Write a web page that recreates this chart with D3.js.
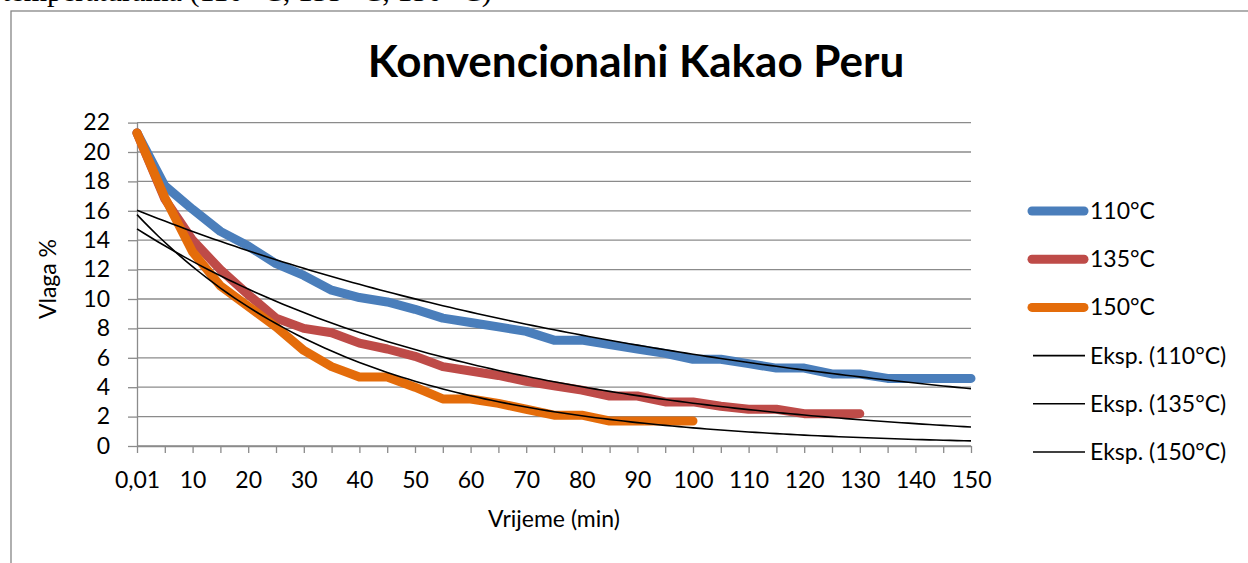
<!DOCTYPE html>
<html>
<head>
<meta charset="utf-8">
<script src="https://cdnjs.cloudflare.com/ajax/libs/d3/7.8.5/d3.min.js"></script>
<style>
    body { margin: 0; background: #fff; }
    text { font-family: Lato, "Open Sans", sans-serif; }
</style>
</head>
<body>
<script>
// x categories (minutes), Excel category axis
const categories = ["0,01", "5", "10", "15", "20", "25", "30", "35", "40", "45", "50",
    "55", "60", "65", "70", "75", "80", "85", "90", "95", "100",
    "105", "110", "115", "120", "125", "130", "135", "140", "145", "150"];

// moisture % per series
const vlaga110 = [21.3, 17.7, 16.1, 14.6, 13.6, 12.4, 11.6, 10.6, 10.1, 9.8, 9.3,
    8.7, 8.4, 8.1, 7.8, 7.2, 7.2, 6.9, 6.6, 6.3, 5.9,
    5.9, 5.6, 5.3, 5.3, 4.9, 4.9, 4.6, 4.6, 4.6, 4.6];
const vlaga135 = [21.3, 16.8, 14.0, 12.0, 10.3, 8.7, 8.0, 7.7, 7.0, 6.6, 6.1,
    5.4, 5.1, 4.8, 4.4, 4.1, 3.8, 3.4, 3.4, 3.0, 3.0,
    2.7, 2.5, 2.5, 2.2, 2.2, 2.2];
const vlaga150 = [21.3, 16.9, 13.2, 10.9, 9.5, 8.1, 6.5, 5.4, 4.7, 4.7, 4.0,
    3.2, 3.2, 2.9, 2.5, 2.1, 2.1, 1.7, 1.7, 1.7, 1.7];

const seriesNames = ["110°C", "135°C", "150°C"];
const yTicks = [0, 2, 4, 6, 8, 10, 12, 14, 16, 18, 20, 22];

const width = 1248;
const height = 563;
const xLeft = 137, xRight = 971, yTop = 122.6, yBottom = 446;
const colors = ["#4A7EBB", "#BE4B48", "#E46C0A"];
const gridColor = "#8b8b8b";

const series = [vlaga110, vlaga135, vlaga150].map((v, k) => ({
    name: seriesNames[k], values: v, color: colors[k]
}));

// exponential trendline like Excel: ln(y) = ln(a) + b*x, x = 1..n
function fitExp(values) {
    const n = values.length;
    const xs = d3.range(1, n + 1);
    const ly = values.map(v => Math.log(v));
    const mx = d3.mean(xs), my = d3.mean(ly);
    const sxy = d3.sum(xs, (x, i) => (x - mx) * (ly[i] - my));
    const sxx = d3.sum(xs, x => (x - mx) * (x - mx));
    const b = sxy / sxx;
    return { a: Math.exp(my - b * mx), b: b };
}

const svg = d3.select('body').append('svg')
    .attr("width", width).attr("height", height)
    .style("background-color", "#fff");

// line of document text above the chart, mostly cut off by the page top
svg.append('text')
    .attr("x", 2).attr("y", 1)
    .style("font-family", "'Liberation Serif', serif")
    .style("font-size", "30px")
    .text("temperaturama (110 °C, 135 °C, 150 °C)");

// chart frame (runs off the page right/bottom)
svg.append('rect')
    .attr("x", 11).attr("y", 11)
    .attr("width", 1250).attr("height", 620)
    .attr("fill", "none").attr("stroke", "#868686").attr("stroke-width", 1.3);

svg.append('text')
    .attr("x", 636).attr("y", 77)
    .attr("text-anchor", "middle")
    .style("font-size", "44px").style("font-weight", "bold")
    .text("Konvencionalni Kakao Peru");

const xScale = d3.scalePoint().domain(categories).range([xLeft, xRight]);
const yScale = d3.scaleLinear().domain([0, 22]).range([yBottom, yTop]);
// trendline x (category index 1..31) on same pixels
const xIndex = d3.scaleLinear().domain([1, categories.length]).range([xLeft, xRight]);

// gridlines
svg.append('g').selectAll('line').data(yTicks).enter().append('line')
    .attr("x1", xLeft).attr("x2", xRight)
    .attr("y1", d => yScale(d)).attr("y2", d => yScale(d))
    .attr("stroke", gridColor).attr("stroke-width", 1.3);

const yAxis = d3.axisLeft(yScale).tickValues(yTicks).tickSize(9).tickSizeOuter(0).tickPadding(18);
const xAxis = d3.axisBottom(xScale).tickSize(7).tickSizeOuter(0).tickPadding(19)
    .tickFormat((d, i) => i % 2 === 0 ? d : "");

const gy = svg.append('g').attr("transform", "translate(" + xLeft + ",0)").call(yAxis);
const gx = svg.append('g').attr("transform", "translate(0," + yBottom + ")").call(xAxis);
[gx, gy].forEach(g => {
    g.selectAll('path, line').attr("stroke", gridColor).attr("stroke-width", 1.3);
    g.selectAll('text').style("font-size", "23px").attr("fill", "#000")
        .style("font-family", "Lato, sans-serif");
});

// data lines
const line = d3.line()
    .x((d, i) => xScale(categories[i]))
    .y(d => yScale(d));

svg.append('g').selectAll('path').data(series).enter().append('path')
    .attr("d", d => line(d.values))
    .attr("fill", "none")
    .attr("stroke", d => d.color)
    .attr("stroke-width", 9)
    .attr("stroke-linecap", "round")
    .attr("stroke-linejoin", "round");

// trendlines over the whole axis
const steps = d3.range(1, categories.length + 0.001, 0.25);
const trendLine = d3.line().x(d => xIndex(d[0])).y(d => yScale(d[1]));
svg.append('g').selectAll('path').data(series).enter().append('path')
    .attr("d", d => {
        const f = fitExp(d.values);
        return trendLine(steps.map(t => [t, f.a * Math.exp(f.b * t)]));
    })
    .attr("fill", "none").attr("stroke", "#000").attr("stroke-width", 1.6);

// axis titles
svg.append('text')
    .attr("transform", "translate(56,279) rotate(-90)")
    .attr("text-anchor", "middle")
    .style("font-size", "23px")
    .text("Vlaga %");

svg.append('text')
    .attr("x", (xLeft + xRight) / 2).attr("y", 527)
    .attr("text-anchor", "middle")
    .style("font-size", "23px")
    .text("Vrijeme (min)");

// legend
const legend = svg.append('g');
const rowY = i => 211 + i * 48.2;
series.forEach((s, i) => {
    legend.append('line')
        .attr("x1", 1032).attr("x2", 1084)
        .attr("y1", rowY(i)).attr("y2", rowY(i))
        .attr("stroke", s.color).attr("stroke-width", 9).attr("stroke-linecap", "round");
    legend.append('text')
        .attr("x", 1090).attr("y", rowY(i)).attr("dy", "0.35em")
        .style("font-size", "23px")
        .text(s.name);
});
series.forEach((s, i) => {
    const yy = rowY(i + 3);
    legend.append('line')
        .attr("x1", 1033).attr("x2", 1085)
        .attr("y1", yy).attr("y2", yy)
        .attr("stroke", "#000").attr("stroke-width", 1.6);
    legend.append('text')
        .attr("x", 1090).attr("y", yy).attr("dy", "0.35em")
        .style("font-size", "23px")
        .text("Eksp. (" + s.name + ")");
});
</script>
</body>
</html>
